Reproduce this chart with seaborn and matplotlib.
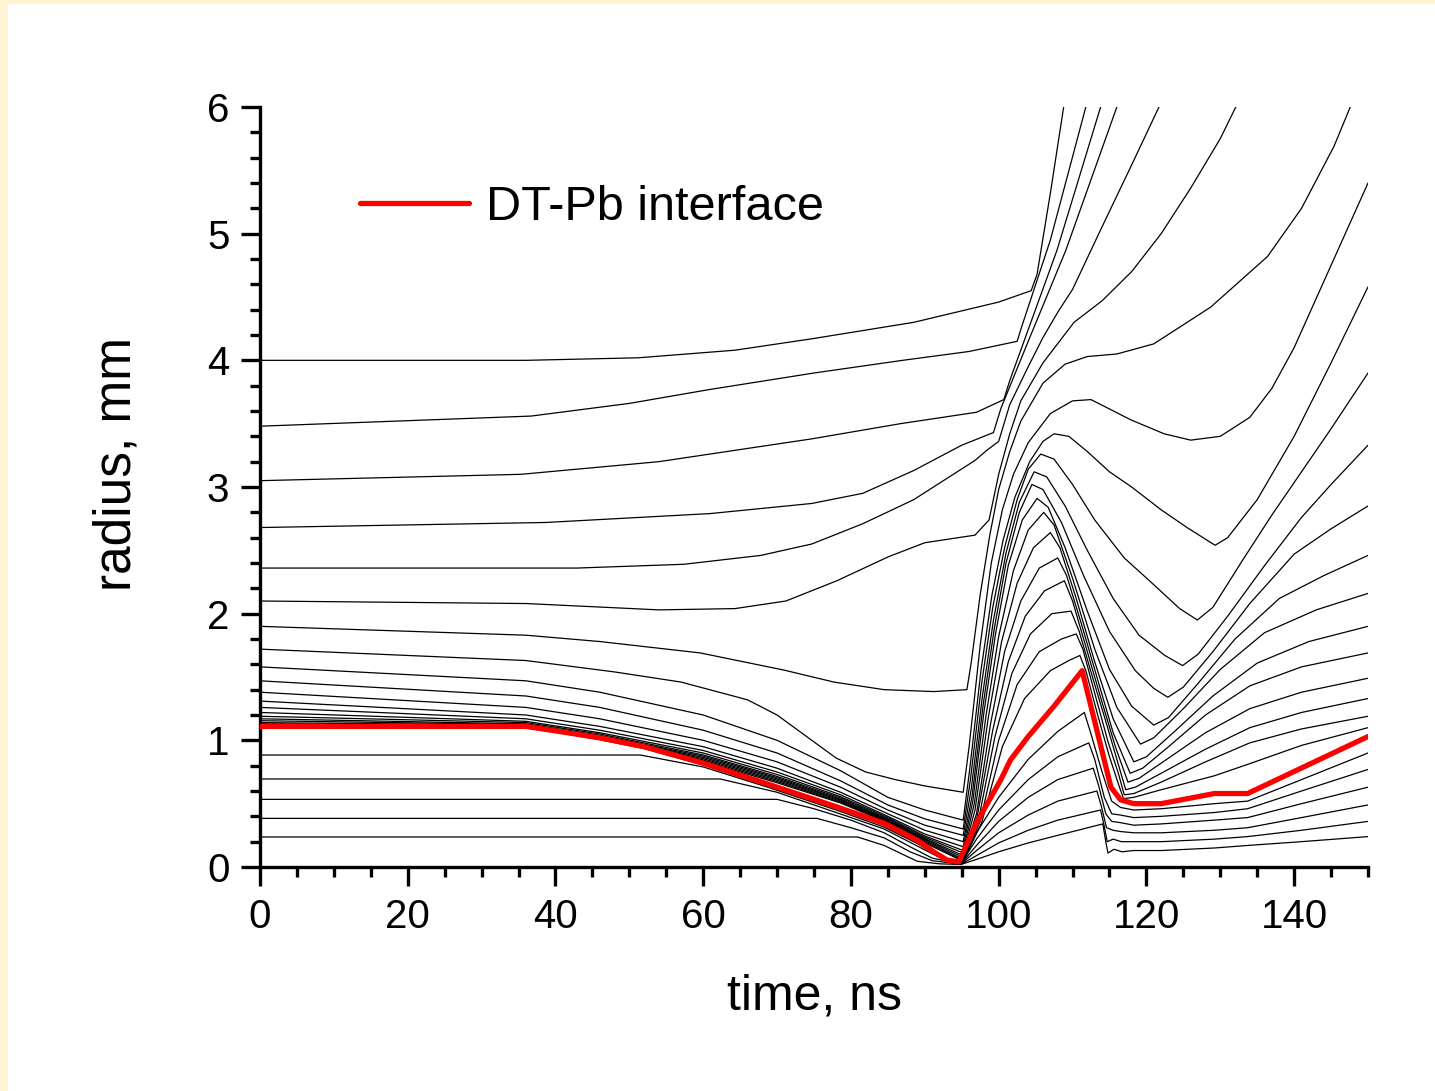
import matplotlib
matplotlib.use("Agg")
import matplotlib.pyplot as plt
from matplotlib.patches import Rectangle
from matplotlib.ticker import MultipleLocator
import pandas as pd
import seaborn as sns

# Lagrangian marker trajectories: time (ns), radius (mm)
# outer Pb markers (leave through the top of the plot)
t_L01 = [0, 36, 51.2, 64.3, 74.7, 88.5, 100, 104.4, 105.2, 107, 108.8, 110]
r_L01 = [4.00, 4.00, 4.02, 4.08, 4.17, 4.30, 4.46, 4.55, 4.68, 5.32, 6.00, 6.45]

t_L02 = [0, 36.7, 50, 60.9, 75, 87, 96, 102.5, 103.2, 107, 111.8, 113]
r_L02 = [3.48, 3.56, 3.66, 3.77, 3.90, 4.00, 4.07, 4.15, 4.28, 4.95, 6.00, 6.25]

t_L03 = [0, 35.3, 54, 74.7, 86.7, 97, 100.7, 101.5, 107.9, 113.8, 115]
r_L03 = [3.05, 3.10, 3.20, 3.38, 3.50, 3.59, 3.69, 3.84, 4.87, 6.00, 6.25]

t_L04 = [0, 38.7, 60.9, 74.7, 81.6, 88.5, 95, 99.3, 100.3, 104, 109.1, 116, 117]
r_L04 = [2.68, 2.72, 2.79, 2.87, 2.95, 3.13, 3.33, 3.43, 3.62, 4.15, 4.87, 6.00, 6.20]

t_L05 = [0, 42.9, 57.4, 67.8, 74.7, 81.6, 88.5, 96.8, 98.4, 100, 101.5, 104, 106,
         108, 110, 113.8, 117.9, 121.7, 123]
r_L05 = [2.36, 2.36, 2.39, 2.46, 2.55, 2.71, 2.90, 3.21, 3.29, 3.36, 3.65, 3.95, 4.18,
         4.38, 4.56, 5.03, 5.53, 6.00, 6.15]

t_L06 = [0, 36, 54, 64.3, 71.2, 78.1, 85.1, 90, 96.8, 98.7, 100, 101.5, 103, 106,
         110.2, 114, 118, 122, 126, 130, 132.1, 134]
r_L06 = [2.10, 2.08, 2.03, 2.04, 2.10, 2.26, 2.45, 2.56, 2.62, 2.74, 3.10, 3.42, 3.68, 3.98,
         4.30, 4.47, 4.70, 5.00, 5.36, 5.75, 6.00, 6.20]

t_L07 = [0, 36, 46, 59.6, 70.9, 77.7, 84.5, 91.2, 95.7, 96.3, 97.5, 98.8, 100, 101.5,
         103, 106, 109, 112, 116, 121, 128.7, 136.4, 141, 145.4, 147.6, 149]
r_L07 = [1.90, 1.83, 1.78, 1.69, 1.555, 1.46, 1.40, 1.385, 1.40, 1.62, 2.15, 2.62, 2.98, 3.28,
         3.52, 3.82, 3.97, 4.03, 4.05, 4.13, 4.42, 4.82, 5.20, 5.69, 6.00, 6.25]

# markers near the interface (end on the right edge)
t_L08 = [0, 36, 48, 57, 66, 70, 74, 78, 82, 86, 90, 95.2, 96, 97.5, 99, 100.5, 102, 104,
         107, 110, 112.5, 117.9, 122.4, 126, 130, 134, 137, 140, 145, 150]
r_L08 = [1.72, 1.63, 1.54, 1.46, 1.32, 1.20, 1.03, 0.86, 0.75, 0.69, 0.64, 0.59, 0.95, 1.75,
         2.40, 2.82, 3.10, 3.35, 3.58, 3.68, 3.69, 3.53, 3.42, 3.37, 3.40, 3.55, 3.78, 4.10,
         4.75, 5.40]

t_pre = [0, 36, 46, 60, 70, 78.6, 85, 90, 95.2]

t_L09 = t_pre + [96.1, 97.6, 99.1, 100.6, 102.2, 104.2, 106, 107.5, 109.5, 112, 115, 118,
                 122, 125.5, 129.3, 131, 135, 140, 145, 150]
r_L09 = [1.58, 1.47, 1.38, 1.20, 1.00, 0.76, 0.55, 0.45, 0.37,
         0.78, 1.55, 2.15, 2.58, 2.92, 3.20, 3.36, 3.42, 3.40, 3.28, 3.12, 3.00,
         2.82, 2.68, 2.54, 2.60, 2.90, 3.40, 3.98, 4.58]

t_L10 = t_pre + [96.2, 97.7, 99.2, 100.8, 102.5, 104, 105.7, 107.5, 110, 113, 117, 120.6,
                 124.5, 126.9, 129, 133, 137, 141, 145, 150]
r_L10 = [1.47, 1.35, 1.26, 1.08, 0.90, 0.68, 0.49, 0.38, 0.30,
         0.70, 1.45, 2.05, 2.52, 2.90, 3.14, 3.26, 3.22, 3.02, 2.74, 2.44, 2.25,
         2.04, 1.95, 2.05, 2.42, 2.78, 3.12, 3.46, 3.90]

t_L11 = t_pre + [96.3, 97.8, 99.3, 101, 102.8, 104.8, 106.5, 109, 112, 115.5, 119, 122.5,
                 124.9, 127, 131, 136, 141, 145, 150]
r_L11 = [1.38, 1.26, 1.17, 1.00, 0.83, 0.63, 0.45, 0.33, 0.25,
         0.62, 1.35, 1.95, 2.48, 2.88, 3.12, 3.08, 2.85, 2.50, 2.12, 1.83, 1.67,
         1.59, 1.68, 1.98, 2.38, 2.76, 3.02, 3.33]

t_L12 = t_pre + [96.4, 97.9, 99.4, 101, 102.8, 104.5, 106, 108.5, 111.5, 115, 118.5, 121,
                 122.9, 125, 129, 134, 140, 145, 150]
r_L12 = [1.31, 1.20, 1.11, 0.95, 0.78, 0.59, 0.42, 0.29, 0.20,
         0.56, 1.28, 1.88, 2.40, 2.80, 3.02, 2.98, 2.72, 2.30, 1.86, 1.55, 1.41,
         1.34, 1.42, 1.70, 2.08, 2.47, 2.67, 2.85]

t_L13 = t_pre + [96.5, 98, 99.6, 101.3, 103.2, 105.2, 106.7, 109, 112, 115, 118, 121,
                 123, 127, 132, 138, 144, 150]
r_L13 = [1.26, 1.17, 1.08, 0.92, 0.75, 0.57, 0.40, 0.26, 0.16,
         0.52, 1.22, 1.85, 2.38, 2.74, 2.91, 2.84, 2.52, 2.02, 1.56, 1.27, 1.12,
         1.18, 1.45, 1.80, 2.12, 2.30, 2.46]

t_L14 = t_pre + [96.7, 98.3, 100, 102, 104, 106.1, 107.5, 110, 113, 116, 119.2, 121,
                 125, 130, 136, 143, 150]
r_L14 = [1.22, 1.15, 1.06, 0.90, 0.73, 0.555, 0.39, 0.245, 0.13,
         0.50, 1.20, 1.82, 2.34, 2.66, 2.80, 2.70, 2.28, 1.72, 1.26, 0.97, 1.02,
         1.25, 1.56, 1.85, 2.03, 2.16]

t_L15 = t_pre + [96.8, 98.6, 100.4, 102.5, 104.7, 107, 108.3, 110.5, 113, 115.5, 118.3,
                 120, 124, 129, 135, 142, 150]
r_L15 = [1.19, 1.14, 1.05, 0.885, 0.715, 0.545, 0.38, 0.235, 0.11,
         0.45, 1.18, 1.78, 2.24, 2.52, 2.64, 2.52, 2.12, 1.62, 1.17, 0.83,
         0.87, 1.08, 1.35, 1.61, 1.78, 1.90]

t_L16 = t_pre + [97, 98.9, 100.8, 103, 105.5, 108, 109.2, 111.2, 113.5, 115.5, 117.8,
                 119.5, 123, 128, 134, 141, 150]
r_L16 = [1.17, 1.13, 1.04, 0.875, 0.705, 0.535, 0.372, 0.225, 0.09,
         0.42, 1.13, 1.70, 2.10, 2.36, 2.44, 2.30, 1.92, 1.46, 1.06, 0.74,
         0.78, 0.95, 1.20, 1.43, 1.58, 1.69]

t_L17 = t_pre + [97.1, 99.2, 101.3, 103.6, 106.2, 108.9, 110, 112, 114, 115.8, 117.5,
                 119, 122.5, 128, 134, 141, 150]
r_L17 = [1.155, 1.125, 1.035, 0.865, 0.695, 0.528, 0.367, 0.218, 0.075,
         0.40, 1.08, 1.62, 1.98, 2.18, 2.26, 2.10, 1.70, 1.30, 0.95, 0.67,
         0.70, 0.84, 1.06, 1.25, 1.38, 1.49]

t_L18 = t_pre + [97.3, 99.5, 101.8, 104.3, 107.2, 109.8, 110.9, 112.7, 114.5, 116, 117.2,
                 118.5, 122, 128, 134, 141, 150]
r_L18 = [1.14, 1.12, 1.03, 0.855, 0.685, 0.52, 0.36, 0.21, 0.06,
         0.38, 1.03, 1.53, 1.84, 2.00, 2.02, 1.86, 1.50, 1.15, 0.85, 0.61,
         0.63, 0.74, 0.93, 1.10, 1.22, 1.33]

t_L19 = t_pre + [97.5, 100, 102.5, 105.5, 108.5, 110.5, 111.4, 113.2, 114.8, 116.2, 117,
                 118.3, 122, 128, 134, 141, 150]
r_L19 = [1.13, 1.117, 1.025, 0.845, 0.675, 0.512, 0.355, 0.20, 0.05,
         0.36, 1.00, 1.44, 1.70, 1.80, 1.84, 1.72, 1.33, 0.99, 0.74, 0.57,
         0.58, 0.67, 0.83, 0.98, 1.09, 1.19]

t_L20 = t_pre + [97.7, 100.5, 103.5, 107, 109.5, 111, 111.8, 113.5, 115, 116.3, 116.9,
                 118.3, 122, 129.2, 133.7, 141, 150]
r_L20 = [1.12, 1.114, 1.022, 0.835, 0.665, 0.505, 0.35, 0.19, 0.045,
         0.35, 0.95, 1.33, 1.55, 1.63, 1.67, 1.55, 1.18, 0.87, 0.64, 0.54,
         0.55, 0.61, 0.72, 0.81, 0.96, 1.10]

# DT-Pb interface
t_red = [0, 36, 40, 46, 52, 60, 69, 78, 84.5, 89, 91.2, 93, 94.6, 97, 100.3, 101.6, 104,
         107.5, 111.3, 115.2, 116.5, 118.3, 122, 129.2, 133.7, 150]
r_red = [1.11, 1.11, 1.075, 1.02, 0.95, 0.82, 0.65, 0.476, 0.345, 0.21, 0.12, 0.055, 0.04,
         0.35, 0.69, 0.845, 1.03, 1.27, 1.55, 0.63, 0.53, 0.50, 0.50, 0.58, 0.58, 1.03]

# DT fuel markers (inside the interface)
t_I1 = [0, 36, 40, 46, 52, 60, 69, 78, 84.5, 89, 91.2, 93, 94.9, 97, 100, 104, 108, 111.6,
        112.5, 114, 115.3, 116.5, 118.3, 122, 129.2, 133.7, 141, 150]
r_I1 = [1.10, 1.10, 1.065, 1.005, 0.935, 0.805, 0.635, 0.462, 0.33, 0.195, 0.105, 0.045, 0.03,
        0.27, 0.55, 0.85, 1.07, 1.22, 1.05, 0.75, 0.52, 0.47, 0.45, 0.46, 0.50, 0.52, 0.69, 0.90]

t_I2 = [0, 51.5, 60, 69, 78, 84.5, 89, 91.5, 94.9, 97, 100, 104, 108, 112.2, 113, 114.3,
        115.3, 116.5, 118.3, 122, 129.2, 133.7, 141, 150]
r_I2 = [0.884, 0.884, 0.79, 0.625, 0.45, 0.315, 0.185, 0.095, 0.028, 0.22, 0.45, 0.69, 0.87,
        0.98, 0.85, 0.55, 0.42, 0.41, 0.39, 0.40, 0.43, 0.46, 0.60, 0.77]

t_I3 = [0, 62.3, 70, 78, 84.5, 88.5, 91.5, 94.9, 97, 100, 104, 108, 112.8, 113.5, 114.5,
        115.3, 116.5, 118.3, 122, 129.2, 133.7, 141, 150]
r_I3 = [0.695, 0.695, 0.59, 0.43, 0.30, 0.18, 0.09, 0.026, 0.17, 0.36, 0.55, 0.69, 0.78,
        0.65, 0.42, 0.36, 0.35, 0.33, 0.34, 0.37, 0.39, 0.50, 0.63]

t_I4 = [0, 70, 75, 80, 84.5, 88, 91, 94.9, 97, 100, 104, 108, 113.3, 113.9, 114.6, 115.5,
        116.5, 118.3, 122, 129.2, 133.7, 141, 150]
r_I4 = [0.534, 0.534, 0.46, 0.37, 0.27, 0.16, 0.07, 0.024, 0.13, 0.27, 0.41, 0.52, 0.60,
        0.48, 0.31, 0.29, 0.28, 0.27, 0.27, 0.29, 0.31, 0.39, 0.49]

t_I5 = [0, 75.4, 80, 84.5, 88, 91, 94.9, 97, 100, 104, 108, 113.8, 114.3, 114.7, 115.5,
        116.6, 118.3, 122, 129.2, 133.7, 141, 150]
r_I5 = [0.384, 0.384, 0.31, 0.23, 0.12, 0.05, 0.022, 0.09, 0.19, 0.29, 0.37, 0.45, 0.32,
        0.20, 0.22, 0.20, 0.20, 0.20, 0.22, 0.24, 0.29, 0.36]

t_I6 = [0, 80.9, 84.5, 87, 89, 92, 94.9, 97, 100, 104, 108, 114.1, 114.5, 114.8, 115.6,
        116.7, 118.3, 122, 129.2, 133.7, 141, 150]
r_I6 = [0.237, 0.237, 0.17, 0.10, 0.045, 0.025, 0.02, 0.06, 0.12, 0.19, 0.25, 0.34, 0.20,
        0.11, 0.14, 0.12, 0.13, 0.13, 0.15, 0.17, 0.20, 0.24]

x_ticks = [0, 20, 40, 60, 80, 100, 120, 140]
y_ticks = [0, 1, 2, 3, 4, 5, 6]
legend_label = "DT-Pb interface"

black_lines = [
    (t_L01, r_L01), (t_L02, r_L02), (t_L03, r_L03), (t_L04, r_L04), (t_L05, r_L05),
    (t_L06, r_L06), (t_L07, r_L07), (t_L08, r_L08), (t_L09, r_L09), (t_L10, r_L10),
    (t_L11, r_L11), (t_L12, r_L12), (t_L13, r_L13), (t_L14, r_L14), (t_L15, r_L15),
    (t_L16, r_L16), (t_L17, r_L17), (t_L18, r_L18), (t_L19, r_L19), (t_L20, r_L20),
    (t_I1, r_I1), (t_I2, r_I2), (t_I3, r_I3), (t_I4, r_I4), (t_I5, r_I5), (t_I6, r_I6),
]
rows = []
for k, (tt, rr) in enumerate(black_lines):
    rows += [(k, a, b) for a, b in zip(tt, rr)]
df = pd.DataFrame(rows, columns=["marker", "time", "radius"])
df_red = pd.DataFrame({"time": t_red, "radius": r_red})

sns.set_style("ticks", {"axes.edgecolor": "black", "text.color": "black",
                        "axes.labelcolor": "black", "xtick.color": "black",
                        "ytick.color": "black"})
plt.rcParams["font.family"] = ["Liberation Sans", "DejaVu Sans"]

fig = plt.figure(figsize=(14.35, 10.91), dpi=100, facecolor="#FFF4D2")
fig.add_artist(Rectangle((8 / 1435, 0), 1, 1087 / 1091, transform=fig.transFigure,
                         facecolor="white", edgecolor="none", zorder=-10))
ax = fig.add_axes([260 / 1435, 1 - 867 / 1091, 1108 / 1435, 760 / 1091])

sns.lineplot(data=df, x="time", y="radius", units="marker", estimator=None,
             color="black", lw=0.9, sort=False, ax=ax)
sns.lineplot(data=df_red, x="time", y="radius", color="red", lw=3.8, sort=False,
             label=legend_label, ax=ax, zorder=5)

ax.set_xlim(0, 150)
ax.set_ylim(0, 6)
sns.despine(ax=ax)
for s in ["left", "bottom"]:
    ax.spines[s].set_linewidth(2.4)
    ax.spines[s].set_color("black")
ax.set_xticks(x_ticks)
ax.set_yticks(y_ticks)
ax.xaxis.set_minor_locator(MultipleLocator(5))
ax.yaxis.set_minor_locator(MultipleLocator(0.2))
ax.tick_params(which="major", direction="out", length=14, width=2.4, labelsize=29,
               pad=8, colors="black")
ax.tick_params(which="minor", direction="out", length=7, width=2.4, colors="black")

ax.set_xlabel("time, ns", fontsize=36, color="black")
ax.set_ylabel("radius, mm", fontsize=37, color="black")
ax.xaxis.set_label_coords(0.5, -0.14)
ax.yaxis.set_label_coords(-0.107, 0.53)

leg = ax.legend(loc="center left", bbox_to_anchor=(0.0903, 0.868), frameon=False,
                fontsize=35, handlelength=2.25, handletextpad=0.34, borderpad=0,
                borderaxespad=0)
for txt in leg.get_texts():
    txt.set_color("black")

fig.savefig("out.png", dpi=100, facecolor=fig.get_facecolor())
